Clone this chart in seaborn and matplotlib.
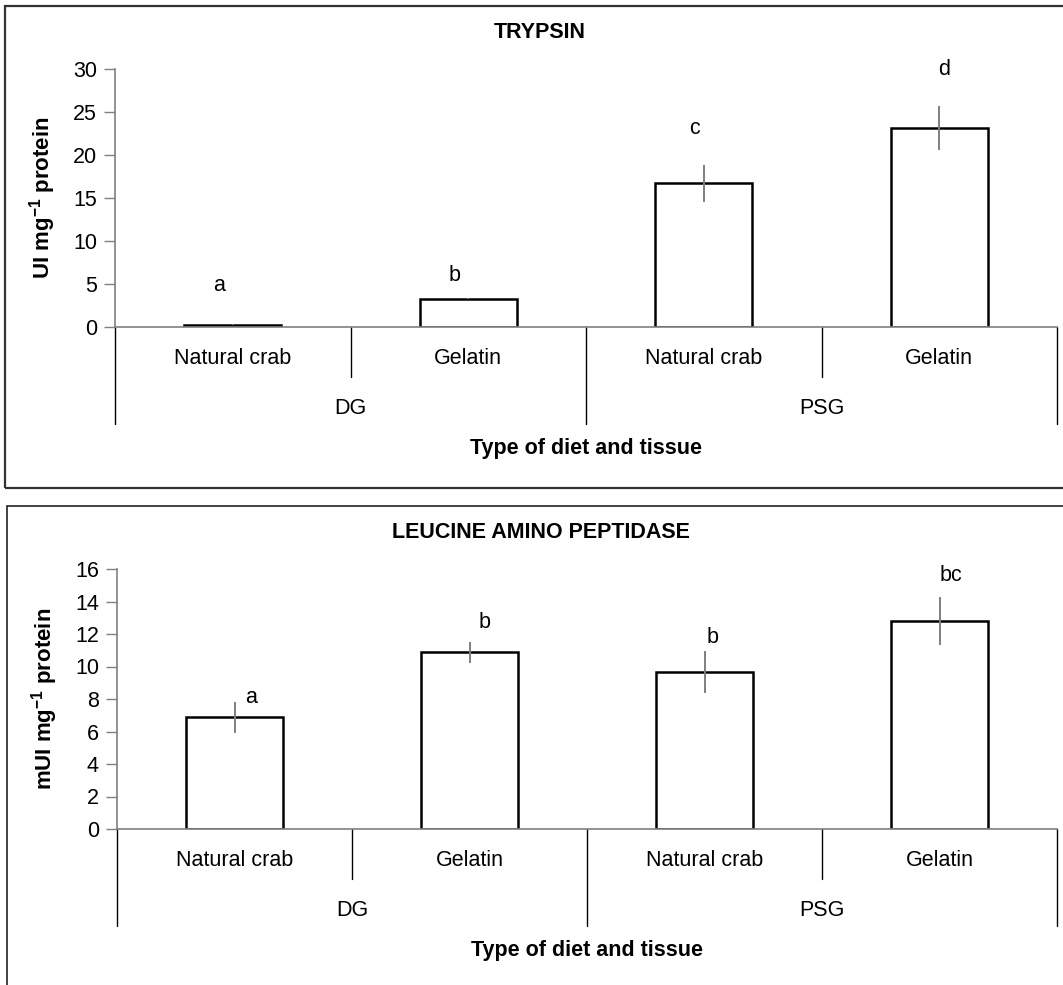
import numpy as np
import pandas as pd
import matplotlib
matplotlib.use("Agg")
import matplotlib.pyplot as plt
from matplotlib.patches import Rectangle
import seaborn as sns

# =========================
# data
# =========================
tissues = ["DG", "DG", "PSG", "PSG"]
diets = ["Natural crab", "Gelatin", "Natural crab", "Gelatin"]

trypsin_mean = [0.25, 3.3, 16.7, 23.1]
trypsin_err = [0.05, 0.05, 2.15, 2.55]
trypsin_letters = ["a", "b", "c", "d"]
trypsin_letter_y = [4.8, 6.0, 23.1, 29.9]
trypsin_letter_dx = [-0.06, -0.06, -0.04, 0.02]

lap_mean = [6.87, 10.87, 9.66, 12.78]
lap_err = [0.97, 0.64, 1.28, 1.47]
lap_letters = ["a", "b", "b", "bc"]
lap_letter_y = [8.1, 12.7, 11.8, 15.6]
lap_letter_dx = [0.07, 0.065, 0.036, 0.05]

sns.set_style("white")
plt.rcParams["font.family"] = ["Liberation Sans", "DejaVu Sans"]
plt.rcParams["mathtext.fontset"] = "custom"
plt.rcParams["mathtext.rm"] = "Liberation Sans"
plt.rcParams["mathtext.bf"] = "Liberation Sans:bold"
for k in ["text.color", "axes.labelcolor", "xtick.color", "ytick.color"]:
    plt.rcParams[k] = "black"

FS = 15.5
W, H = 1063, 985
fig = plt.figure(figsize=(W / 100, H / 100), dpi=100)


def px_axes(left, right, top, bottom):
    return fig.add_axes([left / W, 1 - bottom / H, (right - left) / W, (bottom - top) / H])


def draw_panel(ax, values, errors, letters, letter_y, letter_dx, title, ylabel, ymax, ystep, ax_h):
    df = pd.DataFrame({
        "key": [f"{t} {d}" for t, d in zip(tissues, diets)],
        "value": values,
    })
    sns.barplot(data=df, x="key", y="value", ax=ax, color="white", saturation=1,
                edgecolor="black", linewidth=1.8, width=0.41, errorbar=None)
    ax.errorbar(np.arange(len(values)), values, yerr=errors, fmt="none",
                ecolor="#7f7f7f", elinewidth=1.4, capsize=0)

    for i, (lab, ly, dx) in enumerate(zip(letters, letter_y, letter_dx)):
        ax.text(i + dx, ly, lab, ha="center", va="center", fontsize=FS)

    ax.set_xlim(-0.5, 3.5)
    ax.set_ylim(0, ymax)
    ax.set_yticks(np.arange(0, ymax + 0.1, ystep))
    ax.set_xticks(range(4))
    ax.set_xticklabels(diets)
    ax.tick_params(axis="x", length=0, pad=15, labelsize=FS, colors="black")
    ax.tick_params(axis="y", direction="out", length=8, width=1, color="#808080",
                   labelcolor="black", pad=5, labelsize=FS, left=True)
    for s in ["top", "right"]:
        ax.spines[s].set_visible(False)
    for s in ["left", "bottom"]:
        ax.spines[s].set_color("#808080")
        ax.spines[s].set_linewidth(1.2)

    # category separators below the axis
    tr = ax.get_xaxis_transform()
    for x in [0.5, 2.5]:
        ax.plot([x, x], [0, -50 / ax_h], transform=tr, clip_on=False, color="black", lw=1)
    for x in [-0.5, 1.5, 3.5]:
        ax.plot([x, x], [0, -97 / ax_h], transform=tr, clip_on=False, color="black", lw=1)
    for x, g in [(0.5, "DG"), (2.5, "PSG")]:
        ax.text(x, -81 / ax_h, g, transform=tr, ha="center", va="center", fontsize=FS)

    ax.set_xlabel("Type of diet and tissue", fontsize=FS, fontweight="bold")
    ax.xaxis.set_label_coords(0.5, -111 / ax_h)
    ax.set_ylabel(ylabel, fontsize=FS + 0.5, fontweight="bold")
    ax.yaxis.set_label_coords(-57 / 942, 0.5)
    ax.set_title(title, fontsize=FS, fontweight="bold", pad=22, x=(540 - 115) / 942)


# panel frames (cut by the picture edges like the original)
fig.add_artist(Rectangle((5 / W, 1 - 488 / H), 1.2, (488 - 6) / H, transform=fig.transFigure,
                         fill=False, edgecolor="#333333", lw=1.6))
fig.add_artist(Rectangle((7 / W, -0.2), 1.2, 0.2 + 1 - 506 / H, transform=fig.transFigure,
                         fill=False, edgecolor="#222222", lw=1.2))

ax1 = px_axes(115, 1057, 69, 327)
draw_panel(ax1, trypsin_mean, trypsin_err, trypsin_letters, trypsin_letter_y, trypsin_letter_dx,
           "TRYPSIN", r"UI mg$^{\mathbf{-1}}$ protein", 30, 5, 258)

ax2 = px_axes(117, 1057, 569, 829)
draw_panel(ax2, lap_mean, lap_err, lap_letters, lap_letter_y, lap_letter_dx,
           "LEUCINE AMINO PEPTIDASE", r"mUI mg$^{\mathbf{-1}}$ protein", 16, 2, 260)

fig.savefig("out.png", dpi=100)
